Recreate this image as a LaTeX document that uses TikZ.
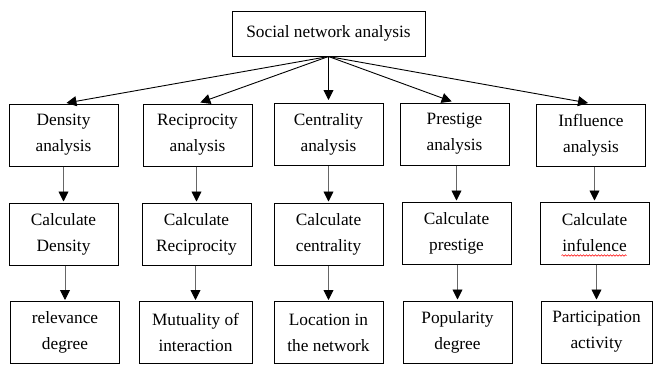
\documentclass[tikz,border=0pt]{standalone}
\usepackage{fontspec}
\setmainfont{Liberation Serif}
\usetikzlibrary{arrows.meta,calc,decorations.pathmorphing}
\tikzset{pin/.style={line width=0.9pt, -{Triangle[length=10pt,width=10pt,color=black]}, shorten >=1pt},
  blk/.style={draw, line width=1pt, minimum width=109pt, minimum height=62pt, align=center,
    inner sep=2pt, font=\fontsize{17.3}{26}\selectfont}}

\begin{document}
\begin{tikzpicture}[x=1pt,y=-1pt]
  \useasboundingbox (0,0) rectangle (654,365);
  \node[blk, minimum width=193pt, minimum height=45pt] (sna) at (328.5,33.5) {Social network analysis};
  % analysis row
  \node[blk] (den) at (63.5,135) {Density\\analysis};
  \node[blk] (rec) at (197.5,135) {Reciprocity\\analysis};
  \node[blk] (cen) at (328.5,134.5) {Centrality\\analysis};
  \node[blk] (pre) at (454.5,134) {Prestige\\analysis};
  \node[blk] (inf) at (591,135) {Influence\\analysis};
  % calculation row
  \node[blk] (cden) at (63.5,234) {Calculate\\Density};
  \node[blk] (crec) at (196.5,234) {Calculate\\Reciprocity};
  \node[blk] (ccen) at (328.5,234) {Calculate\\centrality};
  \node[blk] (cpre) at (456.5,233) {Calculate\\prestige};
  \node[blk] (cinf) at (594.5,233) {Calculate\\infulence};
  % result row
  \node[blk] (oden) at (65,332.5) {relevance\\degree};
  \node[blk, minimum width=113pt] (orec) at (195.5,332.5) {Mutuality of\\interaction};
  \node[blk] (ocen) at (328.5,332.5) {Location in\\the network};
  \node[blk] (opre) at (457.5,332) {Popularity\\degree};
  \node[blk, minimum width=111pt] (oinf) at (596.5,332) {Participation\\activity};
  % arrows from the root
  \draw[pin, shorten >=3pt] (sna.south) -- (den.north);
  \draw[pin, shorten >=3pt] (sna.south) -- (rec.north);
  \draw[pin, shorten >=3pt] (sna.south) -- (cen.north);
  \draw[pin, shorten >=3pt] (sna.south) -- (pre.north);
  \draw[pin, shorten >=3pt] (sna.south) -- (inf.north);
  % down the columns
  \draw[pin, draw=black!60] (den.south -| cden.north) -- (cden.north);
  \draw[pin, draw=black!60] (rec.south -| crec.north) -- (crec.north);
  \draw[pin, draw=black!60] (cen.south -| ccen.north) -- (ccen.north);
  \draw[pin, draw=black!60] (pre.south -| cpre.north) -- (cpre.north);
  \draw[pin, draw=black!60] (inf.south -| cinf.north) -- (cinf.north);
  \draw[pin, draw=black!60] (cden.south -| oden.north) -- (oden.north);
  \draw[pin, draw=black!60] (crec.south -| orec.north) -- (orec.north);
  \draw[pin, draw=black!60] (ccen.south -| ocen.north) -- (ocen.north);
  \draw[pin, draw=black!60] (cpre.south -| opre.north) -- (opre.north);
  \draw[pin, draw=black!60] (cinf.south -| oinf.north) -- (oinf.north);
  % spell-check mark
  \draw[red, line width=0.5pt, decorate, decoration={snake, amplitude=0.8pt, segment length=3pt}]
    ($(cinf.south)+(-33,-9)$) -- ($(cinf.south)+(32,-9)$);
\end{tikzpicture}
\end{document}
